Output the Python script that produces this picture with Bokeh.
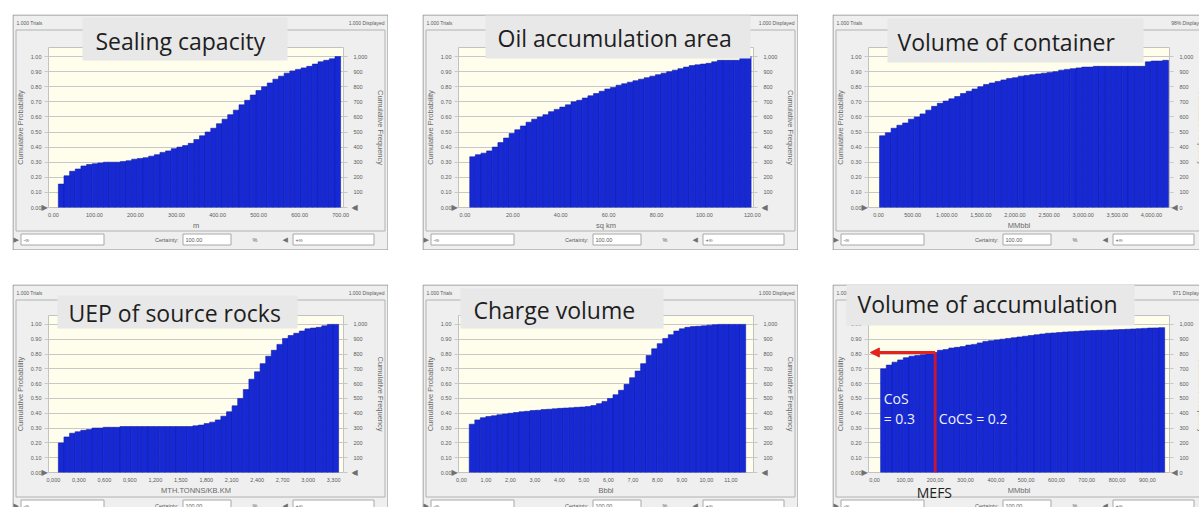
import numpy as np
from bokeh.plotting import figure
from bokeh.models import (Range1d, LinearAxis, FixedTicker, BoxAnnotation, Label,
                          Arrow, NormalHead, Spacer, GridBox)
from bokeh.layouts import row, column
from bokeh.embed import file_html
from bokeh.resources import INLINE

# ------------------------------------------------------------------ data
panel_titles = ["Sealing capacity", "Oil accumulation area", "Volume of container",
                "UEP of source rocks", "Charge volume", "Volume of accumulation"]
x_axis_titles = ["m", "sq km", "MMbbl", "MTH.TONNS/KB.KM", "Bbbl", "MMbbl"]
header_left = ["1.000 Trials"] * 6
header_right = ["1.000 Displayed", "1.000 Displayed", "98% Displayed",
                "1.000 Displayed", "1.000 Displayed", "971 Displayed"]

# cumulative probability of each of the 50 bins
sealing_cum = [0.155, 0.21, 0.24, 0.255, 0.275, 0.285, 0.29, 0.295, 0.30, 0.30,
               0.30, 0.305, 0.31, 0.32, 0.325, 0.33, 0.34, 0.35, 0.365, 0.375,
               0.39, 0.40, 0.41, 0.425, 0.45, 0.475, 0.50, 0.525, 0.555, 0.585,
               0.615, 0.645, 0.68, 0.71, 0.745, 0.775, 0.80, 0.825, 0.85, 0.87,
               0.89, 0.905, 0.915, 0.925, 0.935, 0.95, 0.965, 0.975, 0.985, 1.00]
oil_area_cum = [0.336, 0.35, 0.36, 0.375, 0.40, 0.43, 0.46, 0.49, 0.515, 0.54,
                0.565, 0.585, 0.60, 0.615, 0.635, 0.65, 0.665, 0.68, 0.70, 0.71,
                0.725, 0.74, 0.755, 0.77, 0.785, 0.795, 0.81, 0.82, 0.83, 0.84,
                0.85, 0.86, 0.87, 0.88, 0.89, 0.90, 0.91, 0.92, 0.93, 0.94,
                0.945, 0.95, 0.955, 0.965, 0.975, 0.975, 0.975, 0.975, 0.99, 1.00]
container_cum = [0.475, 0.495, 0.525, 0.545, 0.56, 0.585, 0.60, 0.62, 0.645, 0.67,
                 0.69, 0.705, 0.72, 0.735, 0.755, 0.77, 0.785, 0.80, 0.815, 0.825,
                 0.835, 0.845, 0.855, 0.86, 0.87, 0.875, 0.88, 0.885, 0.89, 0.895,
                 0.90, 0.91, 0.915, 0.92, 0.925, 0.93, 0.93, 0.935, 0.935, 0.935,
                 0.935, 0.935, 0.935, 0.935, 0.935, 0.935, 0.965, 0.97, 0.97, 0.975]
uep_cum = [0.20, 0.24, 0.265, 0.275, 0.285, 0.29, 0.30, 0.30, 0.305, 0.305,
           0.305, 0.31, 0.31, 0.31, 0.31, 0.31, 0.31, 0.31, 0.31, 0.31,
           0.31, 0.31, 0.31, 0.31, 0.315, 0.32, 0.33, 0.34, 0.355, 0.38,
           0.41, 0.45, 0.50, 0.56, 0.63, 0.68, 0.735, 0.785, 0.825, 0.865,
           0.905, 0.925, 0.94, 0.955, 0.97, 0.975, 0.98, 0.99, 1.00, 1.00]
charge_cum = [0.326, 0.355, 0.37, 0.378, 0.383, 0.39, 0.395, 0.40, 0.405, 0.41,
              0.413, 0.418, 0.42, 0.425, 0.427, 0.43, 0.433, 0.435, 0.437, 0.44,
              0.442, 0.445, 0.452, 0.465, 0.48, 0.50, 0.525, 0.555, 0.595, 0.64,
              0.685, 0.735, 0.79, 0.835, 0.87, 0.905, 0.93, 0.955, 0.97, 0.98,
              0.985, 0.987, 0.99, 0.995, 0.998, 1.00, 1.00, 1.00, 1.00, 1.00]
accum_cum = [0.70, 0.725, 0.745, 0.76, 0.775, 0.785, 0.79, 0.795, 0.80, 0.81,
             0.825, 0.83, 0.84, 0.845, 0.85, 0.86, 0.865, 0.875, 0.885, 0.89,
             0.895, 0.90, 0.905, 0.91, 0.915, 0.92, 0.925, 0.93, 0.935, 0.94,
             0.942, 0.945, 0.948, 0.95, 0.952, 0.955, 0.957, 0.958, 0.96, 0.961,
             0.962, 0.964, 0.965, 0.967, 0.969, 0.971, 0.973, 0.975, 0.976, 0.978]
cum_values = [sealing_cum, oil_area_cum, container_cum, uep_cum, charge_cum, accum_cum]

# first bin start / last bin end of each histogram
bin_spans = [(12, 700), (2, 119.5), (15, 4250), (0.058, 3.358), (0.32, 11.6), (20, 957)]
x_ranges = [(-12, 707), (-2.7, 120.5), (-147, 4265), (-0.058, 3.416), (-0.12, 11.92), (-20, 973)]

x_ticks = [
    [0, 100, 200, 300, 400, 500, 600, 700],
    [0, 20, 40, 60, 80, 100, 120],
    [0, 500, 1000, 1500, 2000, 2500, 3000, 3500, 4000],
    [0.0, 0.3, 0.6, 0.9, 1.2, 1.5, 1.8, 2.1, 2.4, 2.7, 3.0, 3.3],
    [0, 1, 2, 3, 4, 5, 6, 7, 8, 9, 10, 11],
    [0, 100, 200, 300, 400, 500, 600, 700, 800, 900],
]
x_tick_labels = [
    ["0.00", "100.00", "200.00", "300.00", "400.00", "500.00", "600.00", "700.00"],
    ["0.00", "20.00", "40.00", "60.00", "80.00", "100.00", "120.00"],
    ["0.00", "500.00", "1,000.00", "1,500.00", "2,000.00", "2,500.00", "3,000.00",
     "3,500.00", "4,000.00"],
    ["0,000", "0,300", "0,600", "0,900", "1,200", "1,500", "1,800", "2,100", "2,400",
     "2,700", "3,000", "3,300"],
    ["0,00", "1,00", "2,00", "3,00", "4,00", "5,00", "6,00", "7,00", "8,00", "9,00",
     "10,00", "11,00"],
    ["0,00", "100,00", "200,00", "300,00", "400,00", "500,00", "600,00", "700,00",
     "800,00", "900,00"],
]
prob_ticks = [0.0, 0.1, 0.2, 0.3, 0.4, 0.5, 0.6, 0.7, 0.8, 0.9, 1.0]
prob_labels = ["0.00", "0.10", "0.20", "0.30", "0.40", "0.50", "0.60", "0.70", "0.80",
               "0.90", "1.00"]
freq_ticks = [0, 100, 200, 300, 400, 500, 600, 700, 800, 900, 1000]
freq_labels = ["0", "100", "200", "300", "400", "500", "600", "700", "800", "900", "1,000"]

# annotation of the last panel
mefs_value = 200
mefs_prob = 0.81

# ------------------------------------------------------------------ style
BLUE = "#1729d4"
BLUE_EDGE = "#0f1fae"
CREAM = "#fffdeb"
WIN = "#efefef"
GRID = "#c8c8c8"
AX_TXT = "#5a5a5a"
TICK_FONT = "Liberation Sans"
Y_END = 1.06
FRAME_L, FRAME_R = 35, 337

# title box geometry (px inside each window, measured from its top-left corner)
title_boxes = [(70, 3, 275, 46), (63, 1, 328, 44), (55, 4, 311, 48),
               (45, 11, 285, 44), (38, 4, 241, 44), (14, 0, 302, 41)]
title_text_pos = [(83, 26), (75, 23), (65, 27), (56, 28), (51, 25), (25, 19)]


def olabel(p, x, y, text, size, color=AX_TXT, align="left", font=TICK_FONT,
           baseline="middle", angle=0.0):
    p.add_layout(Label(x=x, y=y, text=text, text_font_size=f"{size}px", text_color=color,
                       text_align=align, text_baseline=baseline, text_font=font,
                       angle=angle))


def obox(p, l, t, r, b, fill=None, line="#a8a8a8", lw=1):
    p.add_layout(BoxAnnotation(left=l, right=r, top=t, bottom=b,
                               fill_color=fill, fill_alpha=1.0 if fill else 0.0,
                               line_color=line, line_width=lw,
                               line_alpha=1.0 if line else 0.0))


def make_chart(i, W, H, top_row):
    mb_top = 33 if top_row else 31
    mb_bottom = H - (193 if top_row else 188)
    full = W > 370
    p = figure(width=W, height=H, x_range=Range1d(*x_ranges[i]), y_range=Range1d(0, Y_END),
               output_backend="svg", toolbar_location=None, title=None,
               min_border_left=FRAME_L, min_border_right=W - FRAME_R,
               min_border_top=mb_top, min_border_bottom=mb_bottom,
               background_fill_color=CREAM, border_fill_color=WIN,
               outline_line_color="#c2c2c2", frame_align=False)

    cum = cum_values[i]
    lo, hi = bin_spans[i]
    edges = np.linspace(lo, hi, len(cum) + 1)
    p.quad(left=edges[:-1], right=edges[1:], bottom=0, top=cum,
           fill_color=BLUE, line_color=BLUE_EDGE, line_width=0.6)

    p.xgrid.visible = False
    p.ygrid.ticker = FixedTicker(ticks=prob_ticks)
    p.ygrid.grid_line_color = GRID

    ya = p.yaxis[0]
    ya.ticker = FixedTicker(ticks=prob_ticks)
    ya.major_label_overrides = dict(zip(prob_ticks, prob_labels))
    ya.axis_label = "Cumulative Probability"
    xa = p.xaxis[0]
    xa.ticker = FixedTicker(ticks=x_ticks[i])
    xa.major_label_overrides = dict(zip(x_ticks[i], x_tick_labels[i]))
    xa.axis_label = x_axis_titles[i]

    p.extra_y_ranges = {"freq": Range1d(0, 1000 * Y_END)}
    ra = LinearAxis(y_range_name="freq", ticker=FixedTicker(ticks=freq_ticks),
                    major_label_overrides=dict(zip(freq_ticks, freq_labels)))
    if full:
        ra.axis_label = "Cumulative Frequency"
    p.add_layout(ra, "right")

    for ax in (ya, xa, ra):
        ax.axis_line_color = None
        ax.major_label_text_font = TICK_FONT
        ax.major_label_text_font_size = "5.5px"
        ax.major_label_text_color = AX_TXT
        ax.axis_label_text_font = TICK_FONT
        ax.axis_label_text_font_size = "7.5px"
        ax.axis_label_text_font_style = "normal"
        ax.axis_label_text_color = "#6a6a6a"
        ax.minor_tick_line_color = None
        ax.major_tick_in = 0
    for ax in (ya, ra):
        ax.major_tick_out = 4
        ax.major_tick_line_color = GRID
    ya.major_label_standoff = 3
    ya.axis_label_standoff = 3
    ra.major_label_standoff = 6
    ra.axis_label_standoff = 6
    xa.major_tick_out = 0
    xa.major_tick_line_color = None
    xa.major_label_standoff = 5
    xa.axis_label_standoff = 1
    return p


def make_overlay(i, W, H, top_row):
    """Transparent layer on top of the chart: window frame, header, control bar, title box."""
    ov = figure(width=W, height=H, x_range=Range1d(0, W), y_range=Range1d(H, 0),
                output_backend="svg", toolbar_location=None, title=None,
                x_axis_type=None, y_axis_type=None, min_border=0,
                outline_line_color=None, background_fill_color=None,
                border_fill_color=None, frame_align=False)
    frame_bottom = 193 if top_row else 188
    bottom_edge = H - 0.5 if top_row else H + 20
    group_bottom = 216.5 if top_row else 212.5
    obox(ov, 0.5, 0.5, 375.5, bottom_edge, line="#8e8e8e")
    obox(ov, 3.5, 15.5, 372.5, group_bottom, line="#b2b2b2")
    olabel(ov, 4, 8.5, header_left[i], 5)
    olabel(ov, 372, 8.5, header_right[i], 5, align="right")

    # certainty grabbers at the frame corners
    olabel(ov, FRAME_L - 6, frame_bottom, "\u25B6", 8, color="#707070", font="DejaVu Sans")
    olabel(ov, FRAME_R + 2, frame_bottom, "\u25C0", 8, color="#707070", font="DejaVu Sans")

    # right axis title where the window is cut by the picture edge
    if W < 370:
        olabel(ov, 369, (frame_bottom + 33) / 2, "Cumulative Frequency", 7.5,
               color="#6a6a6a", align="center", angle=-np.pi / 2)

    # bottom control bar
    by = 225 if top_row else 221
    olabel(ov, 1, by, "\u25B6", 7, color="#707070", font="DejaVu Sans")
    obox(ov, 8.5, by - 5.5, 91.5, by + 5.5, fill="#ffffff", line="#a8a8a8")
    olabel(ov, 11, by, "-\u221E", 5.5)
    olabel(ov, 166, by, "Certainty:", 5.5, align="right")
    obox(ov, 170.5, by - 5.5, 218.5, by + 5.5, fill="#ffffff", line="#a8a8a8")
    olabel(ov, 173, by, "100.00", 5.5)
    olabel(ov, 240, by, "%", 5.5)
    olabel(ov, 270, by, "\u25C0", 7, color="#707070", font="DejaVu Sans")
    obox(ov, 280.5, by - 5.5, 361.5, by + 5.5, fill="#ffffff", line="#a8a8a8")
    olabel(ov, 283, by, "+\u221E", 5.5)

    # overlaid title box
    l, t, r, b = title_boxes[i]
    obox(ov, l, t, r, b, fill="#e8e8e8", line=None)
    tx, ty = title_text_pos[i]
    olabel(ov, tx, ty, panel_titles[i], 23, color="#1e1e1e", font="Open Sans")
    return ov


panels, charts, overlays = [], [], []
for i in range(6):
    top = i < 3
    W = 367 if i in (2, 5) else 376
    H = 236 if top else 223
    c = make_chart(i, W, H, top)
    o = make_overlay(i, W, H, top)
    charts.append(c)
    overlays.append(o)
    panels.append(GridBox(children=[(c, 0, 0), (o, 0, 0)]))

# annotation of the "Volume of accumulation" panel
p6 = charts[5]
p6.segment(x0=[mefs_value], y0=[mefs_prob], x1=[mefs_value], y1=[0],
           line_color="#c4153c", line_width=3)
p6.add_layout(Arrow(x_start=mefs_value, y_start=mefs_prob, x_end=-14, y_end=mefs_prob,
                    line_color="#e3231c", line_width=3,
                    end=NormalHead(size=9, fill_color="#e3231c", line_color="#e3231c")))
for txt, x, y in [("CoS", 30, 0.50), ("= 0.3", 30, 0.365), ("CoCS = 0.2", 212, 0.365)]:
    p6.add_layout(Label(x=x, y=y, text=txt, text_font="Open Sans", text_font_size="14px",
                        text_color="#f0f0ff", text_baseline="middle"))
# MEFS label below the axis, at the data position of MEFS
mefs_px = FRAME_L + (mefs_value - x_ranges[5][0]) / (x_ranges[5][1] - x_ranges[5][0]) * (FRAME_R - FRAME_L)
olabel(overlays[5], mefs_px, 208, "MEFS", 14, color="#1e1e1e", align="center", font="Open Sans")

layout = column(
    Spacer(width=10, height=14),
    row(Spacer(width=12, height=10), panels[0], Spacer(width=34, height=10), panels[1],
        Spacer(width=34, height=10), panels[2]),
    Spacer(width=10, height=34),
    row(Spacer(width=12, height=10), panels[3], Spacer(width=34, height=10), panels[4],
        Spacer(width=34, height=10), panels[5]),
)

open("out.html", "w").write(file_html(layout, INLINE))
